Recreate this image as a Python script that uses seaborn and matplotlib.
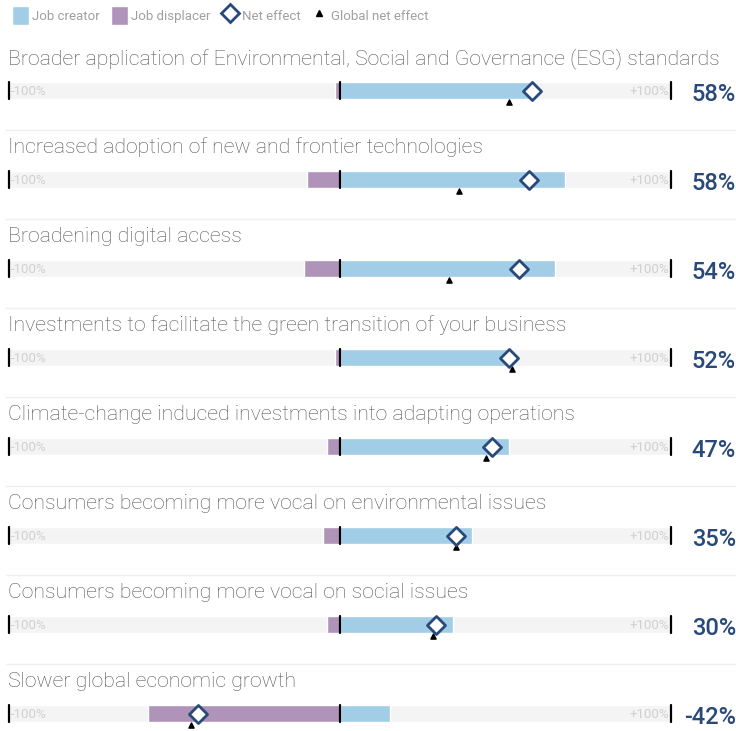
import numpy as np
import pandas as pd
import matplotlib.pyplot as plt
from matplotlib.patches import Patch
from matplotlib.lines import Line2D
import seaborn as sns

sns.set_style("white")
plt.rcParams['font.family'] = ['Roboto', 'DejaVu Sans']

# Data (percent of respondents)
drivers = [
    "Broader application of Environmental, Social and Governance (ESG) standards",
    "Increased adoption of new and frontier technologies",
    "Broadening digital access",
    "Investments to facilitate the green transition of your business",
    "Climate-change induced investments into adapting operations",
    "Consumers becoming more vocal on environmental issues",
    "Consumers becoming more vocal on social issues",
    "Slower global economic growth",
]
job_creator = [59, 68, 65, 52, 51, 40, 34, 15]
job_displacer = [-1.5, -10, -11, -1.5, -4, -5, -4, -58]
net_effect = [58, 57, 54, 51, 46, 35, 29, -43]
global_net = [51, 36, 33, 52, 44, 35, 28, -45]
net_labels = ["58%", "58%", "54%", "52%", "47%", "35%", "30%", "-42%"]

df = pd.DataFrame({
    "driver": drivers,
    "creator": job_creator,
    "displacer": job_displacer,
    "net": net_effect,
    "global": global_net,
})

blue = "#a1cde6"
purple = "#af93b9"
navy = "#28497a"
bg = "#f4f4f4"

W, H = 736, 731
fig = plt.figure(figsize=(W / 100, H / 100), dpi=100)
# axis spans -100..+100 between x=9px and x=671px
ax = fig.add_axes([9 / W, 0, 662 / W, 1])
rows = np.arange(len(drivers))

# light grey full-range track
ax.barh(rows, 200, left=-100, height=0.19, color=bg, zorder=0)
sns.barplot(data=df, x="creator", y="driver", orient="h", color=blue,
            width=0.19, saturation=1, ax=ax, zorder=1)
sns.barplot(data=df, x="displacer", y="driver", orient="h", color=purple,
            width=0.19, saturation=1, ax=ax, zorder=1)
sns.scatterplot(data=df, x="net", y="driver", marker="D", s=85,
                facecolor="white", edgecolor=navy, linewidth=2, ax=ax, zorder=4)
ax.scatter(df["global"], rows + 0.125, marker="^", s=14, color="black", zorder=3)

for i in rows:
    ax.plot([0, 0], [i - 0.095, i + 0.095], color="black", lw=1.6, zorder=2)
    ax.plot([-100, -100], [i - 0.1, i + 0.1], color="black", lw=1.6, zorder=2, clip_on=False)
    ax.plot([100, 100], [i - 0.1, i + 0.1], color="black", lw=1.6, zorder=2, clip_on=False)
    ax.text(-99.4, i + 0.01, "-100%", color="#d0d0d0", fontsize=9.5, va="center", ha="left")
    ax.text(99.4, i + 0.01, "+100%", color="#d0d0d0", fontsize=9.5, va="center", ha="right")
    ax.text(-100.4, i - 0.298, drivers[i], color="#555555", fontsize=15.3,
            fontweight="light", va="baseline", ha="left")
    ax.text(119.6, i + 0.04, net_labels[i], color=navy, fontsize=17,
            fontweight="medium", va="center", ha="right")
    if i < len(drivers) - 1:
        ax.plot([-101, 120], [i + 0.445, i + 0.445], color="#efefef", lw=1,
                clip_on=False, zorder=0)

ax.set_xlim(-100, 100)
ax.set_ylim((H - 90.5) / 89, -90.5 / 89)
ax.set_xlabel("")
ax.set_ylabel("")
ax.set_xticks([])
ax.set_yticks([])
sns.despine(ax=ax, left=True, bottom=True)

handles = [
    Patch(facecolor=blue, label="Job creator"),
    Patch(facecolor=purple, label="Job displacer"),
    Line2D([], [], marker="D", ls="", markersize=9, markerfacecolor="white",
           markeredgecolor=navy, markeredgewidth=2, label="Net effect"),
    Line2D([], [], marker="^", ls="", markersize=4, color="black",
           label="Global net effect"),
]
fig.legend(handles=handles, loc="upper left", bbox_to_anchor=(0.0, 1.008), ncol=4,
           frameon=False, fontsize=9.5, labelcolor="#a0a0a0", handlelength=1.3,
           handleheight=1.8, handletextpad=0.25, columnspacing=0.8, borderpad=0.4)

fig.savefig("out.png", dpi=100)
